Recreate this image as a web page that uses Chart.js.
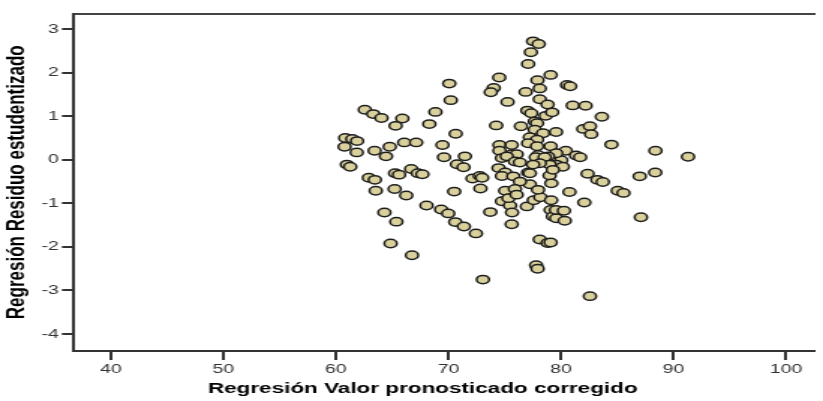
<!DOCTYPE html>
<html>
<head>
<meta charset="utf-8">
<script src="https://cdn.jsdelivr.net/npm/chart.js@4"></script>
<style>
  html, body { margin: 0; padding: 0; background: #ffffff; overflow: hidden; }
  #plot { display: block; }
</style>
</head>
<body>
<!-- drawn on a narrower backing canvas and widened 1.5x, giving the wide glyphs and oval markers -->
<canvas id="plot" width="549" height="401" style="width:823px;height:401px"></canvas>
<script>
// Predicted values (corrected) and studentized residuals, one entry per case
const predicted = [
  77.52, 78.02, 77.32, 77.08, 70.07, 74.51, 74.02, 73.76, 70.20, 75.25,
  76.86, 77.91, 79.08, 78.11, 62.57, 63.32, 64.05, 65.90, 65.30, 68.84,
  68.30, 74.24, 76.44, 77.01, 77.36, 78.11, 78.81, 78.64, 60.83, 61.46,
  61.88, 60.77, 61.85, 63.44, 64.78, 64.45, 66.07, 67.13, 69.47, 70.64,
  69.60, 71.46, 70.76, 71.34, 60.98, 61.27, 62.93, 63.46, 65.26, 65.61,
  66.69, 67.28, 67.68, 72.14, 72.79, 72.99, 63.54, 65.22, 66.25, 70.51,
  72.84, 64.31, 65.37, 64.86, 66.76, 68.05, 69.35, 69.98, 70.60, 71.37,
  72.44, 73.06, 73.72, 74.75, 75.47, 75.65, 75.62, 76.97, 77.58, 78.17,
  78.11, 78.81, 77.79, 77.92, 79.08, 79.28, 79.58, 80.33, 79.56, 80.26,
  87.10, 82.57, 82.07, 79.12, 80.75, 85.04, 85.55, 80.54, 80.81, 81.04,
  82.18, 79.21, 83.63, 79.56, 81.98, 82.57, 82.68, 84.48, 88.39, 91.29,
  80.42, 81.34, 81.70, 80.02, 79.58, 80.16, 79.08, 82.36, 83.23, 83.71,
  86.99, 88.37, 78.99, 79.14, 77.67, 77.87, 77.67, 78.40, 77.23, 77.87,
  77.08, 77.87, 74.53, 75.62, 74.53, 75.62, 76.06, 79.58, 77.96, 78.84,
  74.75, 75.18, 75.91, 76.35, 77.08, 74.45, 75.04, 74.75, 75.76, 77.76,
  78.55, 78.99, 79.28, 78.11, 77.52, 77.23, 77.23, 77.96, 76.35, 75.04,
  75.91, 75.33, 76.06, 79.08
];
const residuals = [
   2.72,  2.66,  2.47,  2.20,  1.75,  1.89,  1.65,  1.55,  1.37,  1.33,
   1.56,  1.83,  1.95,  1.64,  1.15,  1.05,  0.96,  0.95,  0.78,  1.10,
   0.82,  0.79,  0.77,  1.13,  1.07,  1.39,  1.27,  1.01,  0.50,  0.48,
   0.43,  0.30,  0.17,  0.21,  0.30,  0.08,  0.40,  0.40,  0.34,  0.60,
   0.06,  0.08, -0.10, -0.17, -0.11, -0.16, -0.41, -0.46, -0.31, -0.34,
  -0.21, -0.31, -0.33, -0.43, -0.37, -0.41, -0.71, -0.67, -0.82, -0.73,
  -0.66, -1.21, -1.42, -1.92, -2.19, -1.05, -1.14, -1.23, -1.43, -1.53,
  -1.69, -2.75, -1.20, -0.95, -1.05, -1.21, -1.48, -1.07, -0.93, -0.86,
  -1.83, -1.91, -2.42, -2.50, -1.15, -1.30, -1.34, -1.40, -1.15, -1.17,
  -1.32, -3.13, -0.98, -0.93, -0.74, -0.71, -0.76,  1.72,  1.69,  1.25,
   1.24,  1.09,  0.99,  0.64,  0.71,  0.77,  0.59,  0.35,  0.21,  0.07,
   0.21,  0.10,  0.06, -0.01, -0.11, -0.16,  0.31, -0.32, -0.46, -0.51,
  -0.38, -0.29, -0.36, -0.54,  0.88,  0.84,  0.69,  0.61,  0.52,  0.46,
   0.38,  0.31,  0.34,  0.34,  0.21,  0.13,  0.13,  0.15,  0.11,  0.08,
   0.04,  0.08, -0.04, -0.06, -0.29, -0.19, -0.29, -0.37, -0.38,  0.06,
   0.06, -0.11, -0.23, -0.08, -0.11, -0.31, -0.56, -0.69, -0.50, -0.71,
  -0.67, -0.88, -0.80, -1.90
];

const xTickValues = [40, 50, 60, 70, 80, 90, 100];
const yTickValues = [-4, -3, -2, -1, 0, 1, 2, 3];

const xTitle = 'Regresión Valor pronosticado corregido';
const yTitle = 'Regresión Residuo estudentizado';

const sansFamily = '"Liberation Sans", Arial, sans-serif';
const axisColor = '#333333';

// x-axis title sits a little left of the plot's centre, so it is placed by hand
const xTitlePlugin = {
  id: 'xTitle',
  afterDraw(chart) {
    const ctx = chart.ctx;
    ctx.save();
    ctx.font = 'bold 15px ' + sansFamily;
    ctx.fillStyle = '#000000';
    ctx.textAlign = 'center';
    ctx.textBaseline = 'middle';
    ctx.fillText(xTitle, 282, 389);
    ctx.restore();
  }
};

const points = predicted.map((x, i) => ({ x: x, y: residuals[i] }));

new Chart(document.getElementById('plot'), {
  type: 'scatter',
  data: {
    datasets: [{
      data: points,
      backgroundColor: '#d9d09b',
      borderColor: '#1e1e1e',
      borderWidth: 1.5,
      pointRadius: 4.2,
      pointHoverRadius: 4.2
    }]
  },
  options: {
    responsive: false,
    devicePixelRatio: 1,
    animation: false,
    layout: { padding: { top: 13.5, right: 0, bottom: 0, left: 0 } },
    plugins: {
      legend: { display: false },
      tooltip: { enabled: false }
    },
    scales: {
      x: {
        type: 'linear',
        min: 36.72,
        max: 102.52,
        afterBuildTicks: s => { s.ticks = xTickValues.map(v => ({ value: v })); },
        afterFit: s => { s.height = 50; },
        ticks: {
          color: axisColor,
          font: { family: sansFamily, size: 13 },
          padding: 2,
          maxRotation: 0
        },
        grid: {
          display: true,
          drawOnChartArea: false,
          drawTicks: true,
          tickLength: 9,
          color: axisColor,
          lineWidth: 2
        },
        border: { display: true, color: axisColor, width: 2 }
      },
      xTop: {
        type: 'linear',
        position: 'top',
        min: 0,
        max: 1,
        ticks: { display: false },
        grid: { display: false },
        border: { display: true, color: '#444444', width: 2 },
        afterFit: s => { s.height = 0; }
      },
      y: {
        type: 'linear',
        min: -4.39,
        max: 3.36,
        afterBuildTicks: s => { s.ticks = yTickValues.map(v => ({ value: v })); },
        afterFit: s => { s.width = 49.3; },
        ticks: {
          color: axisColor,
          font: { family: sansFamily, size: 13 },
          padding: 2
        },
        grid: {
          display: true,
          drawOnChartArea: false,
          drawTicks: true,
          tickLength: 8,
          color: axisColor,
          lineWidth: 2
        },
        border: { display: true, color: axisColor, width: 2 },
        title: {
          display: true,
          text: yTitle,
          color: '#000000',
          font: { family: sansFamily, size: 17, weight: 'bold' },
          padding: { top: 1.5, bottom: 0 }
        }
      }
    }
  },
  plugins: [xTitlePlugin]
});
</script>
</body>
</html>
